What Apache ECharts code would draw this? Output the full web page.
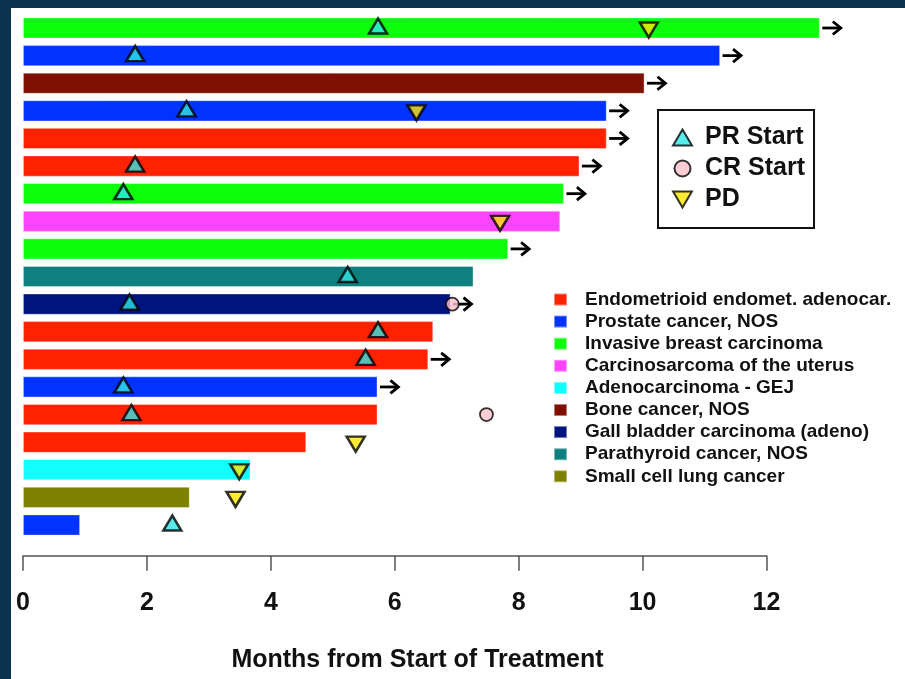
<!DOCTYPE html>
<html>
<head>
<meta charset="utf-8">
<script src="https://cdn.jsdelivr.net/npm/echarts@6/dist/echarts.min.js"></script>
<style>
  html, body { margin: 0; padding: 0; background: #0c3450; }
  #panel { position: absolute; left: 11px; top: 8px; right: 0; bottom: 0; background: #ffffff; }
  #chart { position: absolute; left: 0; top: 0; width: 905px; height: 679px; }
</style>
</head>
<body>
<div id="panel"></div>
<div id="chart"></div>
<script>
// Tumour types (legend order) and their bar colours
const tumourTypes = [
  "Endometrioid endomet. adenocar.",
  "Prostate cancer, NOS",
  "Invasive breast carcinoma",
  "Carcinosarcoma of the uterus",
  "Adenocarcinoma - GEJ",
  "Bone cancer, NOS",
  "Gall bladder carcinoma (adeno)",
  "Parathyroid cancer, NOS",
  "Small cell lung cancer"
];
const typeColors = ["#ff2200", "#0033ff", "#0dff0d", "#ff44ff", "#11ffff", "#7f0f00", "#001480", "#0f7f7f", "#808000"];

// One row per patient, top to bottom
const patientIds = ["P01","P02","P03","P04","P05","P06","P07","P08","P09","P10","P11","P12","P13","P14","P15","P16","P17","P18","P19"];
const patientType = [2, 1, 5, 1, 0, 0, 2, 3, 2, 7, 6, 0, 0, 1, 0, 0, 4, 8, 1];
const monthsOnTreatment = [12.86, 11.25, 10.03, 9.42, 9.42, 8.98, 8.73, 8.67, 7.83, 7.27, 6.90, 6.62, 6.54, 5.72, 5.72, 4.57, 3.67, 2.69, 0.92];
const stillOnTreatment = [1, 1, 1, 1, 1, 1, 1, 0, 1, 0, 1, 0, 1, 1, 0, 0, 0, 0, 0];
const prStart = [5.73, 1.81, null, 2.64, null, 1.81, 1.62, null, null, 5.24, 1.72, 5.73, 5.53, 1.62, 1.75, null, null, null, 2.41];
const crStart = [null, null, null, null, null, null, null, null, null, null, 6.93, null, null, null, 7.48, null, null, null, null];
const pdTime = [10.10, null, null, 6.35, null, null, null, 7.70, null, null, null, null, null, null, null, 5.37, 3.49, 3.43, null];

// Axis ticks
const xTicks = { min: 0, max: 12, interval: 2 };
const axisTitle = "Months from Start of Treatment";

const eventNames = ["PR Start", "CR Start", "PD"];

function points(values) {
  const out = [];
  values.forEach((v, i) => { if (v !== null) out.push([v, i]); });
  return out;
}

const barSeries = tumourTypes.map((name, t) => ({
  name: name,
  type: 'bar',
  barWidth: 21,
  barGap: '-100%',
  clip: false,
  z: 1,
  itemStyle: { color: typeColors[t], borderColor: 'rgba(255,255,255,0.45)', borderWidth: 0.8 },
  data: monthsOnTreatment.map((m, i) => patientType[i] === t ? m : '-')
}));

// Arrow after each bar for patients still on treatment
const arrowSeries = {
  type: 'custom',
  clip: false,
  silent: true,
  z: 2,
  data: points(monthsOnTreatment.map((m, i) => stillOnTreatment[i] ? m : null)),
  renderItem: function (params, api) {
    const p = api.coord([api.value(0), api.value(1)]);
    const x0 = p[0] + 2.5, tip = p[0] + 21, y = p[1];
    return {
      type: 'group',
      children: [
        { type: 'line', shape: { x1: x0, y1: y, x2: tip - 1, y2: y },
          style: { stroke: '#000', lineWidth: 2.8 } },
        { type: 'polyline', shape: { points: [[tip - 8, y - 6.5], [tip, y], [tip - 8, y + 6.5]] },
          style: { stroke: '#000', lineWidth: 2.8, fill: null } }
      ]
    };
  }
};

const downTriangle = 'path://M0,0L20,0L10,17Z';

const eventSeries = [
  {
    name: eventNames[0], type: 'scatter', clip: false, z: 3,
    symbol: 'triangle', symbolSize: [18, 15], symbolOffset: [0, -2],
    itemStyle: { color: '#2ee6e6', borderColor: '#000', borderWidth: 2.5 },
    data: points(prStart)
  },
  {
    name: eventNames[1], type: 'scatter', clip: false, z: 3,
    symbol: 'circle', symbolSize: 13,
    itemStyle: { color: '#ffc0cb', borderColor: '#000', borderWidth: 1.8 },
    data: points(crStart)
  },
  {
    name: eventNames[2], type: 'scatter', clip: false, z: 3,
    symbol: downTriangle, symbolSize: [18, 15], symbolOffset: [0, 2],
    itemStyle: { color: '#ffe600', borderColor: '#000', borderWidth: 2.5 },
    data: points(pdTime)
  }
];

const chart = echarts.init(document.getElementById('chart'), null, { renderer: 'canvas' });
chart.setOption({
  animation: false,
  backgroundColor: 'transparent',
  textStyle: { fontFamily: 'Liberation Sans, Arial, sans-serif' },
  grid: { left: 23, right: 138.5, top: 14.2, bottom: 140.2, containLabel: false },
  xAxis: {
    type: 'value',
    min: xTicks.min, max: xTicks.max, interval: xTicks.interval,
    offset: 17,
    splitLine: { show: false },
    axisLine: { show: true, lineStyle: { color: '#555', width: 1.5 } },
    axisTick: { show: true, length: 15, lineStyle: { color: '#555', width: 1.5 } },
    axisLabel: { margin: 35, fontSize: 25, fontWeight: 'bold', color: '#111',
      fontFamily: 'Liberation Sans, Arial, sans-serif' }
  },
  yAxis: {
    type: 'category', data: patientIds, inverse: true, show: false
  },
  legend: [
    {
      data: eventNames,
      orient: 'vertical',
      left: 658, top: 110,
      padding: [15, 9, 16, 14],
      itemGap: 6,
      itemWidth: 19, itemHeight: 16,
      selectedMode: false,
      borderColor: '#111', borderWidth: 2,
      textStyle: { fontSize: 25, fontWeight: 'bold', color: '#111', lineHeight: 25,
        padding: [0, 0, 0, 8], fontFamily: 'Liberation Sans, Arial, sans-serif' }
    },
    {
      data: tumourTypes,
      orient: 'vertical',
      left: 553, top: 290,
      padding: 0,
      itemGap: 3.1,
      itemWidth: 13, itemHeight: 12,
      icon: 'rect',
      selectedMode: false,
      textStyle: { fontSize: 19, fontWeight: 'bold', color: '#111', lineHeight: 19,
        padding: [0, 0, 0, 13], fontFamily: 'Liberation Sans, Arial, sans-serif' }
    }
  ],
  graphic: [
    {
      type: 'text', x: 417.5, y: 660, silent: true,
      style: { text: axisTitle, fontSize: 25, fontWeight: 'bold', fill: '#111',
        fontFamily: 'Liberation Sans, Arial, sans-serif',
        textAlign: 'center', textVerticalAlign: 'middle' }
    }
  ],
  series: barSeries.concat([arrowSeries]).concat(eventSeries)
});
</script>
</body>
</html>
